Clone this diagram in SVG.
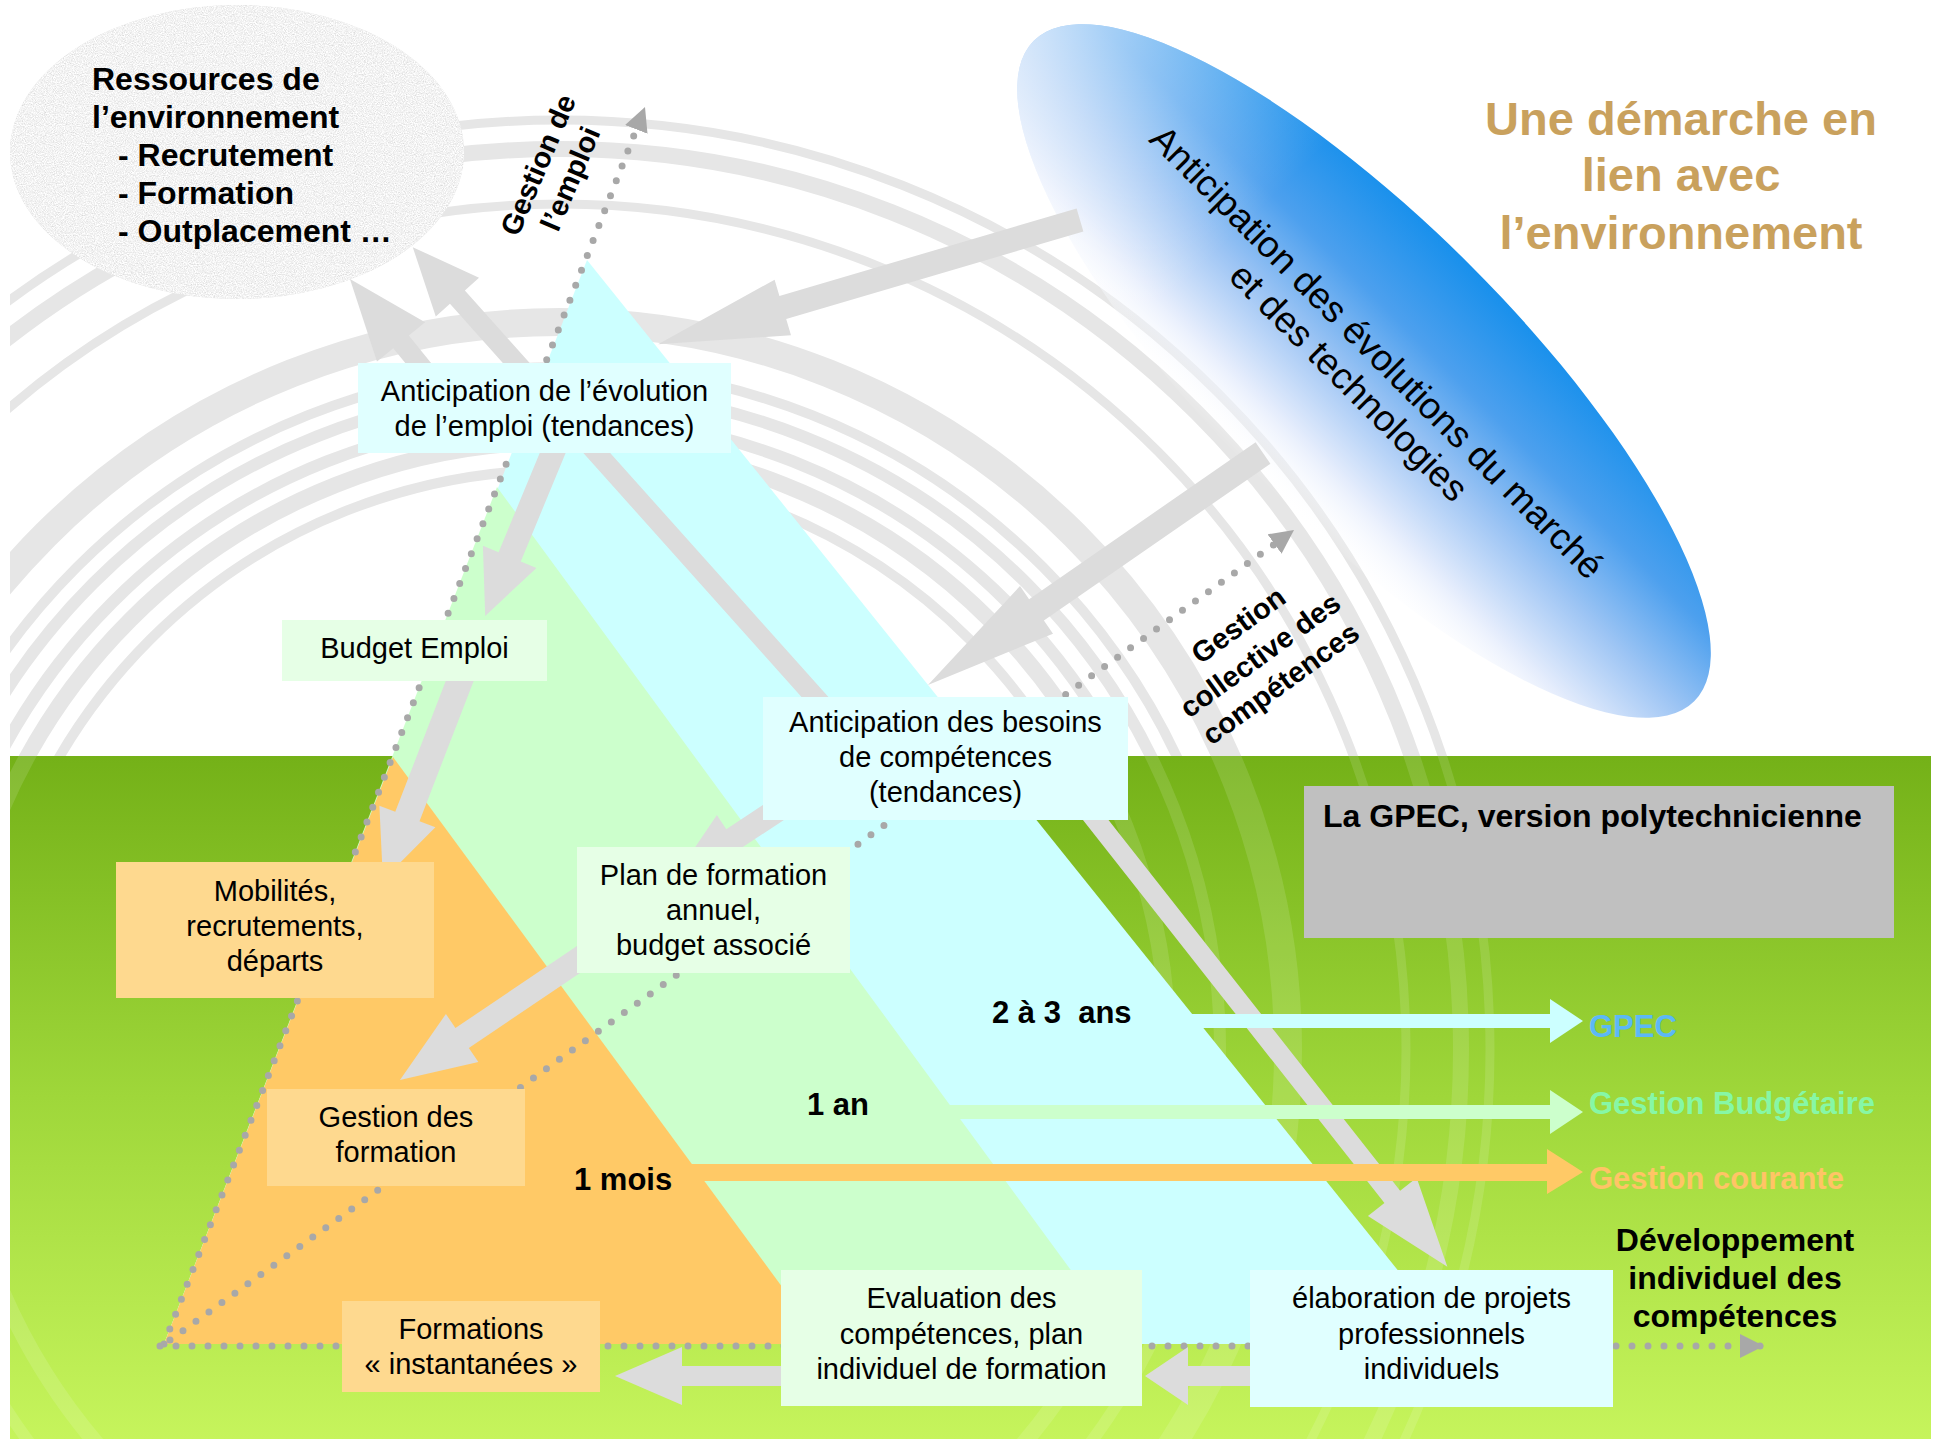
<svg xmlns="http://www.w3.org/2000/svg" width="1937" height="1442" viewBox="0 0 1937 1442">
<style>
  .arc{fill:none;stroke:#e6e6e6}
  .garc{fill:none;stroke:#ffffff;stroke-opacity:0.12}
  .dot{fill:none;stroke:#a8a8a8;stroke-width:7;stroke-linecap:round;stroke-dasharray:0 16}
  .ga{fill:#dcdcdc}
  .t{font-family:"Liberation Sans",Arial,sans-serif;fill:#000}
  .bx{font-size:29px;text-anchor:middle}
  .b{font-weight:bold}
  .cy{fill:#e0ffff}
  .mi{fill:#e6ffe6}
  .or{fill:#fed98f}
</style>
<defs>
  <clipPath id="topClip"><rect x="10" y="0" width="1921" height="756"/></clipPath>
  <clipPath id="greenClip"><rect x="10" y="756" width="1921" height="683"/></clipPath>
  <linearGradient id="greenGrad" x1="0" y1="756" x2="0" y2="1439" gradientUnits="userSpaceOnUse">
    <stop offset="0" stop-color="#74b118"/>
    <stop offset="0.5" stop-color="#9fd73a"/>
    <stop offset="1" stop-color="#c6f45c"/>
  </linearGradient>
  <linearGradient id="blueGrad" x1="0" y1="-150" x2="0" y2="150" gradientUnits="userSpaceOnUse">
    <stop offset="0" stop-color="#1890ec"/>
    <stop offset="0.3" stop-color="#4da0ee"/>
    <stop offset="0.55" stop-color="#9cc4f4"/>
    <stop offset="0.8" stop-color="#e4ecfc"/>
    <stop offset="1" stop-color="#ffffff" stop-opacity="0"/>
  </linearGradient>
  <linearGradient id="blueTip" x1="-467" y1="0" x2="467" y2="0" gradientUnits="userSpaceOnUse">
    <stop offset="0" stop-color="#ffffff" stop-opacity="0.6"/>
    <stop offset="0.3" stop-color="#ffffff" stop-opacity="0"/>
  </linearGradient>
  <filter id="grain">
    <feTurbulence type="fractalNoise" baseFrequency="0.9" numOctaves="2" seed="7" result="n"/>
    <feColorMatrix in="n" type="matrix" values="0.55 0 0 0 0.62  0.55 0 0 0 0.62  0.55 0 0 0 0.62  0 0 0 0 1" result="g"/>
    <feComposite in="g" in2="SourceGraphic" operator="in"/>
  </filter>
  <marker id="dh" markerUnits="userSpaceOnUse" markerWidth="26" markerHeight="26" refX="24" refY="12" orient="auto">
    <path d="M0,0 L24,12 L0,24 Z" fill="#a8a8a8"/>
  </marker>
</defs>

<rect x="0" y="0" width="1937" height="1442" fill="#ffffff"/>

<g id="background-arcs" clip-path="url(#topClip)">
  <circle class="arc" cx="560" cy="1050" r="930" stroke-width="9"/>
  <circle class="arc" cx="560" cy="1050" r="901" stroke-width="16"/>
  <circle class="arc" cx="560" cy="1050" r="846" stroke-width="9"/>
  <circle class="arc" cx="560" cy="1050" r="728" stroke-width="28"/>
  <circle class="arc" cx="560" cy="1050" r="683" stroke-width="10"/>
  <circle class="arc" cx="560" cy="1050" r="660" stroke-width="12"/>
  <circle class="arc" cx="560" cy="1050" r="633" stroke-width="12"/>
  <circle class="arc" cx="560" cy="1050" r="608" stroke-width="16"/>
  <circle class="arc" cx="560" cy="1050" r="580" stroke-width="10"/>
</g>

<rect id="green-ground" x="10" y="756" width="1921" height="683" fill="url(#greenGrad)"/>
<g id="green-arcs" clip-path="url(#greenClip)">
  <circle class="garc" cx="560" cy="1050" r="930" stroke-width="9"/>
  <circle class="garc" cx="560" cy="1050" r="901" stroke-width="16"/>
  <circle class="garc" cx="560" cy="1050" r="846" stroke-width="9"/>
  <circle class="garc" cx="560" cy="1050" r="728" stroke-width="28"/>
  <circle class="garc" cx="560" cy="1050" r="660" stroke-width="12"/>
  <circle class="garc" cx="560" cy="1050" r="608" stroke-width="16"/>
</g>

<g id="ressources">
  <ellipse cx="237" cy="152" rx="227" ry="147" fill="#e2e2e2"/>
  <ellipse cx="237" cy="152" rx="227" ry="147" fill="#e2e2e2" filter="url(#grain)"/>
  <text class="t b" font-size="32"><tspan x="92" y="90">Ressources de</tspan><tspan x="92" y="128">l’environnement</tspan><tspan x="118" y="166">- Recrutement</tspan><tspan x="118" y="204">- Formation</tspan><tspan x="118" y="242">- Outplacement …</tspan></text>
</g>

<g id="marche">
  <g transform="translate(1364,371) rotate(45)">
    <ellipse cx="0" cy="0" rx="467" ry="150" fill="url(#blueGrad)"/>
    <ellipse cx="0" cy="0" rx="467" ry="150" fill="url(#blueTip)"/>
  </g>
  <text class="t" font-size="37" text-anchor="middle" transform="translate(1368,361) rotate(45)">Anticipation des évolutions du marché</text>
  <text class="t" font-size="37" text-anchor="middle" transform="translate(1340,391) rotate(45)">et des technologies</text>
</g>

<g id="titre">
  <text class="t b" font-size="47" text-anchor="middle" style="fill:#c9a15d"><tspan x="1681" y="135">Une démarche en</tspan><tspan x="1681" y="191">lien avec</tspan><tspan x="1681" y="249">l’environnement</tspan></text>
</g>

<g id="pyramide">
  <path d="M587,260 L1457,1344 L164,1344 Z" fill="#ccffff"/>
  <path d="M497,487 L1125,1344 L164,1344 Z" fill="#ccffcc"/>
  <path d="M393,757 L824,1344 L164,1344 Z" fill="#ffc966"/>
</g>

<g id="connectors">
  <path class="dot" d="M164,1344 L645,107" marker-end="url(#dh)"/>
  <path class="dot" d="M170,1340 L1294,530" marker-end="url(#dh)"/>
  <path class="dot" d="M160,1346 L1764,1346" marker-end="url(#dh)"/>

  <path class="ga" transform="translate(432,380) rotate(-129.1)" d="M0,-10 H49.1 V-31 L130.1,0 L49.1,31 V10 H0 Z"/>
  <path class="ga" transform="translate(840,725) rotate(-131.8)" d="M0,-10 H574 V-29 L641,0 L574,29 V10 H0 Z"/>
  <path class="ga" transform="translate(1080,800) rotate(51.8)" d="M0,-10 H505 V-31 L594,0 L505,31 V10 H0 Z"/>
  <path class="ga" transform="translate(1080,220) rotate(163.6)" d="M0,-12 H309.8 V-29 L439.8,0 L309.8,29 V12 H0 Z"/>
  <path class="ga" transform="translate(1263,453) rotate(145.3)" d="M0,-13 H275.5 V-29 L407.5,0 L275.5,29 V13 H0 Z"/>
  <path class="ga" transform="translate(556,445) rotate(112.5)" d="M0,-12 H121 V-29 L185,0 L121,29 V12 H0 Z"/>
  <path class="ga" transform="translate(462,675) rotate(111.1)" d="M0,-13 H151.7 V-30 L219.7,0 L151.7,30 V13 H0 Z"/>
  <path class="ga" transform="translate(800,795) rotate(146.6)" d="M0,-12 H80.4 V-29 L150.4,0 L80.4,29 V12 H0 Z"/>
  <path class="ga" transform="translate(600,945) rotate(146)" d="M0,-12 H166.3 V-29 L241.3,0 L166.3,29 V12 H0 Z"/>
  <path class="ga" transform="translate(1262,1376) rotate(180)" d="M0,-10 H74 V-29 L117,0 L74,29 V10 H0 Z"/>
  <path class="ga" transform="translate(790,1376) rotate(180)" d="M0,-10 H108 V-29 L175,0 L108,29 V10 H0 Z"/>

  <path d="M1140,1014 H1550 V999 L1583,1021 L1550,1043 V1028 H1140 Z" fill="#ccffff"/>
  <path d="M880,1105 H1550 V1090 L1583,1112 L1550,1134 V1119 H880 Z" fill="#ccffcc"/>
  <path d="M692,1164 H1547 V1149 L1583,1172 L1547,1194 V1181 H692 Z" fill="#ffc966"/>
</g>

<g id="label-gestion-emploi">
  <text class="t b" font-size="29" text-anchor="middle" transform="translate(538,165) rotate(-67)"><tspan x="0" y="10">Gestion de</tspan><tspan x="0" y="45">l’emploi</tspan></text>
</g>
<g id="label-gestion-collective">
  <text class="t b" font-size="29" text-anchor="middle" transform="translate(1260,655) rotate(-36)"><tspan x="0" y="-27">Gestion</tspan><tspan x="0" y="10">collective des</tspan><tspan x="0" y="45">compétences</tspan></text>
</g>

<g id="anticipation-emploi">
  <rect class="cy" x="358" y="363" width="373" height="90"/>
  <text class="t bx"><tspan x="544.5" y="401">Anticipation de l’évolution</tspan><tspan x="544.5" y="436">de l’emploi (tendances)</tspan></text>
</g>
<g id="budget-emploi">
  <rect class="mi" x="282" y="620" width="265" height="61"/>
  <text class="t bx" x="414.5" y="658">Budget Emploi</text>
</g>
<g id="anticipation-besoins">
  <rect class="cy" x="763" y="697" width="365" height="123"/>
  <text class="t bx"><tspan x="945.5" y="732">Anticipation des besoins</tspan><tspan x="945.5" y="767">de compétences</tspan><tspan x="945.5" y="802">(tendances)</tspan></text>
</g>
<g id="gpec-box">
  <rect x="1304" y="786" width="590" height="152" fill="#c0c0c0"/>
  <text class="t b" font-size="32" x="1323" y="827">La GPEC, version polytechnicienne</text>
</g>
<g id="mobilites">
  <rect class="or" x="116" y="862" width="318" height="136"/>
  <text class="t bx"><tspan x="275" y="901">Mobilités,</tspan><tspan x="275" y="936">recrutements,</tspan><tspan x="275" y="971">départs</tspan></text>
</g>
<g id="plan-formation">
  <rect class="mi" x="577" y="847" width="273" height="126"/>
  <text class="t bx"><tspan x="713.5" y="885">Plan de formation</tspan><tspan x="713.5" y="920">annuel,</tspan><tspan x="713.5" y="955">budget associé</tspan></text>
</g>
<g id="gestion-formation">
  <rect class="or" x="267" y="1089" width="258" height="97"/>
  <text class="t bx"><tspan x="396" y="1127">Gestion des</tspan><tspan x="396" y="1162">formation</tspan></text>
</g>
<g id="formations-instantanees">
  <rect class="or" x="342" y="1301" width="258" height="91"/>
  <text class="t bx"><tspan x="471" y="1339">Formations</tspan><tspan x="471" y="1374">« instantanées »</tspan></text>
</g>
<g id="evaluation">
  <rect class="mi" x="781" y="1270" width="361" height="136"/>
  <text class="t bx"><tspan x="961.5" y="1308">Evaluation des</tspan><tspan x="961.5" y="1344">compétences, plan</tspan><tspan x="961.5" y="1379">individuel de formation</tspan></text>
</g>
<g id="elaboration">
  <rect class="cy" x="1250" y="1270" width="363" height="137"/>
  <text class="t bx"><tspan x="1431.5" y="1308">élaboration de projets</tspan><tspan x="1431.5" y="1344">professionnels</tspan><tspan x="1431.5" y="1379">individuels</tspan></text>
</g>

<g id="horizons">
  <text class="t b" font-size="31" x="992" y="1023" xml:space="preserve">2 à 3  ans</text>
  <text class="t b" font-size="31" x="807" y="1115">1 an</text>
  <text class="t b" font-size="31" x="574" y="1190">1 mois</text>
  <text class="t b" font-size="31" x="1589" y="1037" style="fill:#5cb8f6">GPEC</text>
  <text class="t b" font-size="31" x="1589" y="1114" style="fill:#86f7a6">Gestion Budgétaire</text>
  <text class="t b" font-size="31" x="1589" y="1189" style="fill:#ffc466">Gestion courante</text>
</g>

<g id="developpement">
  <text class="t b" font-size="32" text-anchor="middle"><tspan x="1735" y="1251">Développement</tspan><tspan x="1735" y="1289">individuel des</tspan><tspan x="1735" y="1327">compétences</tspan></text>
</g>
</svg>
